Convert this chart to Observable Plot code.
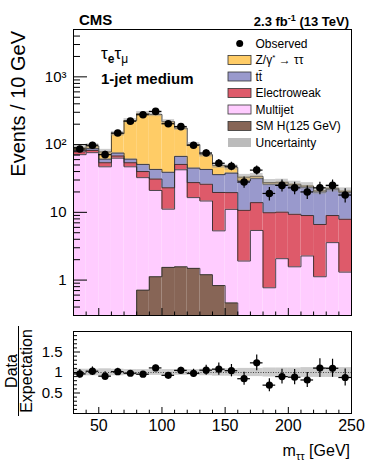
<!DOCTYPE html>
<html><head><meta charset="utf-8">
<script src="https://cdn.jsdelivr.net/npm/d3@7"></script>
<script src="https://cdn.jsdelivr.net/npm/@observablehq/plot@0.6"></script>
<style>
body{margin:0;background:#fff;}
#wrap{position:relative;width:366px;height:463px;overflow:hidden;font-family:"Liberation Sans",Arial,sans-serif;}
#wrap svg{position:absolute;left:0;}
</style></head><body><div id="wrap"></div>
<script>
// ---------- data ----------
const binLow = [30,40,50,60,70,80,90,100,110,120,130,140,150,160,170,180,190,200,210,220,230,240];
const binWidth = 10;
const observed    = [86,98,71,148,222,276,309,203,184,98,75,53,48,28,42,19,25,23,20,23,25,18];
const higgs       = [0,0,0,0,0,0.71,1.12,1.54,1.57,1.49,1.2,0.83,0.46,0,0,0,0,0,0,0,0,0];
const multijet    = [71,76,47,63,47,31.8,19.9,9.6,40.9,15.0,13.5,4.5,10.6,1.91,5.4,0.77,2.07,1.57,2.27,1.12,3.57,1.31];
const electroweak = [7,6,7,5,7,7.5,10,11.9,8.5,11,11.3,14.3,8.5,8.8,8.5,9.1,8.0,7.8,6.7,5.5,5.4,6.6];
const ttbar       = [4,5,7,7,7,11,12,16,16,17.5,17,16.4,18.4,18.3,17.6,16.1,15.9,15.1,14.5,13.35,13,11.7];
const ztautau     = [7,8,17,70,165,237,235,179,108,55,28,13,8,4,2.5,1.5,1.8,1.5,1.0,0.8,0.7,0.9];
const uncertainty = [0.08,0.08,0.09,0.08,0.07,0.07,0.07,0.07,0.07,0.07,0.08,0.09,0.09,0.10,0.10,0.11,0.11,0.11,0.12,0.12,0.12,0.12];

const processNames  = ["SM H(125 GeV)","Multijet","Electroweak","tt̄","Z/γ* → ττ"];
const processValues = [higgs, multijet, electroweak, ttbar, ztautau];
const processColors = ["#876556","#ffccff","#de5a6a","#9999cc","#ffcc66"];

const legendLabels = ["Observed","Z/γ* → ττ","tt̄","Electroweak","Multijet","SM H(125 GeV)","Uncertainty"];
const legendColors = ["#000","#ffcc66","#9999cc","#de5a6a","#ffccff","#876556","#bbbbbb"];
const legendKinds  = ["dot","box","box","box","box","box","band"];

const yTickValues = [1,10,100,1000];
const yTickLabels = ["1","10","10²","10³"];
const rTickValues = [0.5,1,1.5];
const rTickLabels = ["0.5","1","1.5"];
const xTickValues = [50,100,150,200,250];
const xTickLabels = ["50","100","150","200","250"];

const yDomain = [0.3, 5000];
const xDomain = [30, 250];
const rDomain = [0, 2];

// ---------- build tables ----------
const floorY = 0.1; // below visible domain, clipped
const rows = binLow.map((lo, i) => {
  let cum = 0;
  const levels = [];
  for (const v of processValues) { const b = cum; cum += v[i]; levels.push([b, cum]); }
  return {lo, hi: lo + binWidth, mid: lo + binWidth / 2, levels, total: cum,
          obs: observed[i], unc: uncertainty[i]};
});
const layerRects = [];
const layerLines = processNames.map(() => []);
rows.forEach(r => {
  r.levels.forEach(([b, t], k) => {
    if (t > b) layerRects.push({lo: r.lo, hi: r.hi, y1: Math.max(b, floorY), y2: Math.max(t, floorY), k});
    layerLines[k].push({x: r.lo, y: Math.max(t, floorY)});
  });
});
layerLines.forEach(l => l.push({x: xDomain[1], y: l[l.length - 1].y}));

const W = 366;
const mainH = 320, mT = 29, mB = 5, mL = 73, mR = 15;
const frameW = W - mL - mR, frameH = mainH - mT - mB;

// minor ticks for log axis
const logMinor = [];
for (let e = -1; e <= 3; e++) for (let m = 2; m <= 9; m++) {
  const v = m * Math.pow(10, e);
  if (v >= yDomain[0] && v <= yDomain[1]) logMinor.push(v);
}
const xMinor = d3.range(30, 251, 10).filter(v => v % 50 !== 0);
const xMajor = d3.range(50, 251, 50);

const outline = {stroke: "#2a2a2a", strokeWidth: 1, strokeOpacity: 0.85};

const main = Plot.plot({
  width: W, height: mainH,
  marginTop: mT, marginBottom: mB, marginLeft: mL, marginRight: mR,
  style: {fontFamily: "Liberation Sans, Arial, sans-serif", background: "transparent"},
  x: {domain: xDomain, axis: null},
  y: {type: "log", domain: yDomain},
  marks: [
    Plot.rect(layerRects, {x1: "lo", x2: "hi", y1: "y1", y2: "y2",
      fill: d => processColors[d.k], clip: true}),
    ...layerLines.map(l => Plot.line(l, {x: "x", y: "y", curve: "step-after", ...outline, clip: true})),
    Plot.rect(rows, {x1: "lo", x2: "hi", y1: d => d.total * (1 - d.unc), y2: d => d.total * (1 + d.unc),
      fill: "#999", fillOpacity: 0.5, clip: true}),
    Plot.ruleX(rows, {x: "mid", y1: d => d.obs - Math.sqrt(d.obs), y2: d => d.obs + Math.sqrt(d.obs), stroke: "black", strokeWidth: 1.2}),
    Plot.ruleY(rows, {y: "obs", x1: "lo", x2: "hi", stroke: "black", strokeWidth: 1.2}),
    Plot.dot(rows, {x: "mid", y: "obs", r: 3.8, fill: "black", stroke: "none"}),
    Plot.tickY(yTickValues, {y: d => d, insetRight: frameW - 14, stroke: "black"}),
    Plot.tickY(logMinor, {y: d => d, insetRight: frameW - 7, stroke: "black"}),
    Plot.tickX(xMajor, {x: d => d, insetTop: frameH - 7, stroke: "black"}),
    Plot.tickX(xMinor, {x: d => d, insetTop: frameH - 3.5, stroke: "black"}),
    Plot.frame({stroke: "black", strokeWidth: 1}),
    Plot.axisY(yTickValues, {tickSize: 0, tickPadding: 7, fontSize: 15, label: null,
      tickFormat: d => yTickLabels[yTickValues.indexOf(d)]})
  ]
});
main.style.top = "0px";

// ---------- ratio panel ----------
const ratioH = 143, rT = 11, rB = 50;
const rFrameH = ratioH - rT - rB;
const rMinor = d3.range(1, 20).map(i => i / 10).filter(v => Math.abs(v * 2 - Math.round(v * 2)) > 1e-6);
const ratioRows = rows.map(r => ({...r, ratio: r.obs / r.total, err: Math.sqrt(r.obs) / r.total}));

const ratio = Plot.plot({
  width: W, height: ratioH,
  marginTop: rT, marginBottom: rB, marginLeft: mL, marginRight: mR,
  style: {fontFamily: "Liberation Sans, Arial, sans-serif", background: "transparent"},
  x: {domain: xDomain, axis: null},
  y: {domain: rDomain},
  marks: [
    Plot.rect(ratioRows, {x1: "lo", x2: "hi", y1: d => 1 - d.unc, y2: d => 1 + d.unc, fill: "#999", fillOpacity: 0.5}),
    Plot.ruleY([1], {stroke: "#444", strokeDasharray: "1,1.5", strokeWidth: 1}),
    Plot.ruleX(ratioRows, {x: "mid", y1: d => d.ratio - d.err, y2: d => d.ratio + d.err, stroke: "black", strokeWidth: 1.2}),
    Plot.ruleY(ratioRows, {y: "ratio", x1: "lo", x2: "hi", stroke: "black", strokeWidth: 1.2}),
    Plot.dot(ratioRows, {x: "mid", y: "ratio", r: 3.6, fill: "black", stroke: "none"}),
    Plot.tickY(rTickValues, {y: d => d, insetRight: frameW - 7, stroke: "black"}),
    Plot.tickY(rMinor, {y: d => d, insetRight: frameW - 4, stroke: "black"}),
    Plot.tickX(xMajor, {x: d => d, insetTop: rFrameH - 6, stroke: "black"}),
    Plot.tickX(xMinor, {x: d => d, insetTop: rFrameH - 3.3, stroke: "black"}),
    Plot.frame({stroke: "black", strokeWidth: 1}),
    Plot.axisY(rTickValues, {tickSize: 0, tickPadding: 11, fontSize: 15, label: null,
      tickFormat: d => rTickLabels[rTickValues.indexOf(d)]}),
    Plot.text(xTickValues, {x: d => d, frameAnchor: "bottom", dy: 17, fontSize: 16,
      text: d => xTickLabels[xTickValues.indexOf(d)],
      textAnchor: d => d === xDomain[1] ? "end" : "middle"})
  ]
});
ratio.style.top = mainH + "px";

const wrap = document.getElementById("wrap");
wrap.appendChild(main);
wrap.appendChild(ratio);

// ---------- annotations & legend ----------
const ov = d3.create("svg").attr("width", W).attr("height", 463)
  .style("top", "0px").style("pointer-events", "none")
  .attr("font-family", "Liberation Sans, Arial, sans-serif");

ov.append("text").attr("x", 79).attr("y", 25).attr("font-weight", "bold").attr("font-size", 15).text("CMS");

const lumi = ov.append("text").attr("x", 349).attr("y", 26).attr("text-anchor", "end")
  .attr("font-weight", "bold").attr("font-size", 13);
lumi.append("tspan").text("2.3 fb");
lumi.append("tspan").attr("font-size", 9).attr("dy", -5).text("-1");
lumi.append("tspan").attr("dy", 5).text(" (13 TeV)");

const ch = ov.append("text").attr("x", 101).attr("y", 59).attr("font-size", 17);
ch.append("tspan").text("τ");
ch.append("tspan").attr("font-size", 12).attr("font-weight", "bold").attr("dy", 4).text("e");
ch.append("tspan").attr("dy", -4).text("τ");
ch.append("tspan").attr("font-size", 12).attr("dy", 4).text("μ");

ov.append("text").attr("x", 101).attr("y", 84).attr("font-weight", "bold").attr("font-size", 15).text("1-jet medium");

ov.append("text").attr("transform", "translate(25,31) rotate(-90)").attr("text-anchor", "end")
  .attr("font-size", 20).text("Events / 10 GeV");

// ratio y title (fraction)
const ry = ov.append("g").attr("transform", "translate(0,371) rotate(-90)");
ry.append("text").attr("x", 0).attr("y", 16.5).attr("text-anchor", "middle").attr("font-size", 16).text("Data");
ry.append("line").attr("x1", -45).attr("x2", 45).attr("y1", 18.5).attr("y2", 18.5).attr("stroke", "black").attr("stroke-width", 1);
ry.append("text").attr("x", 0).attr("y", 31.5).attr("text-anchor", "middle").attr("font-size", 16).text("Expectation");

const xt = ov.append("text").attr("x", 350).attr("y", 456).attr("text-anchor", "end").attr("font-size", 16);
xt.append("tspan").text("m");
xt.append("tspan").attr("font-size", 11).attr("dy", 4).text("ττ");
xt.append("tspan").attr("dy", -4).text(" [GeV]");

// legend
const lg = ov.append("g");
legendLabels.forEach((lab, i) => {
  const cy = 43.5 + i * 16.5;
  if (legendKinds[i] === "dot") {
    lg.append("circle").attr("cx", 239.7).attr("cy", cy).attr("r", 3.5).attr("fill", legendColors[i]);
  } else {
    lg.append("rect").attr("x", 228).attr("y", cy - 4.5).attr("width", 23).attr("height", 9)
      .attr("fill", legendColors[i])
      .attr("stroke", legendKinds[i] === "box" ? "#333" : "none").attr("stroke-width", 0.8);
  }
  const t = lg.append("text").attr("x", 255.5).attr("y", cy + 4.3).attr("font-size", 12);
  if (lab.startsWith("Z/γ*")) {
    t.append("tspan").text("Z/γ");
    t.append("tspan").attr("font-size", 8).attr("dy", -4).text("*");
    t.append("tspan").attr("dy", 4).text(" → ττ");
  } else t.text(lab);
});

wrap.appendChild(ov.node());
</script></body></html>
